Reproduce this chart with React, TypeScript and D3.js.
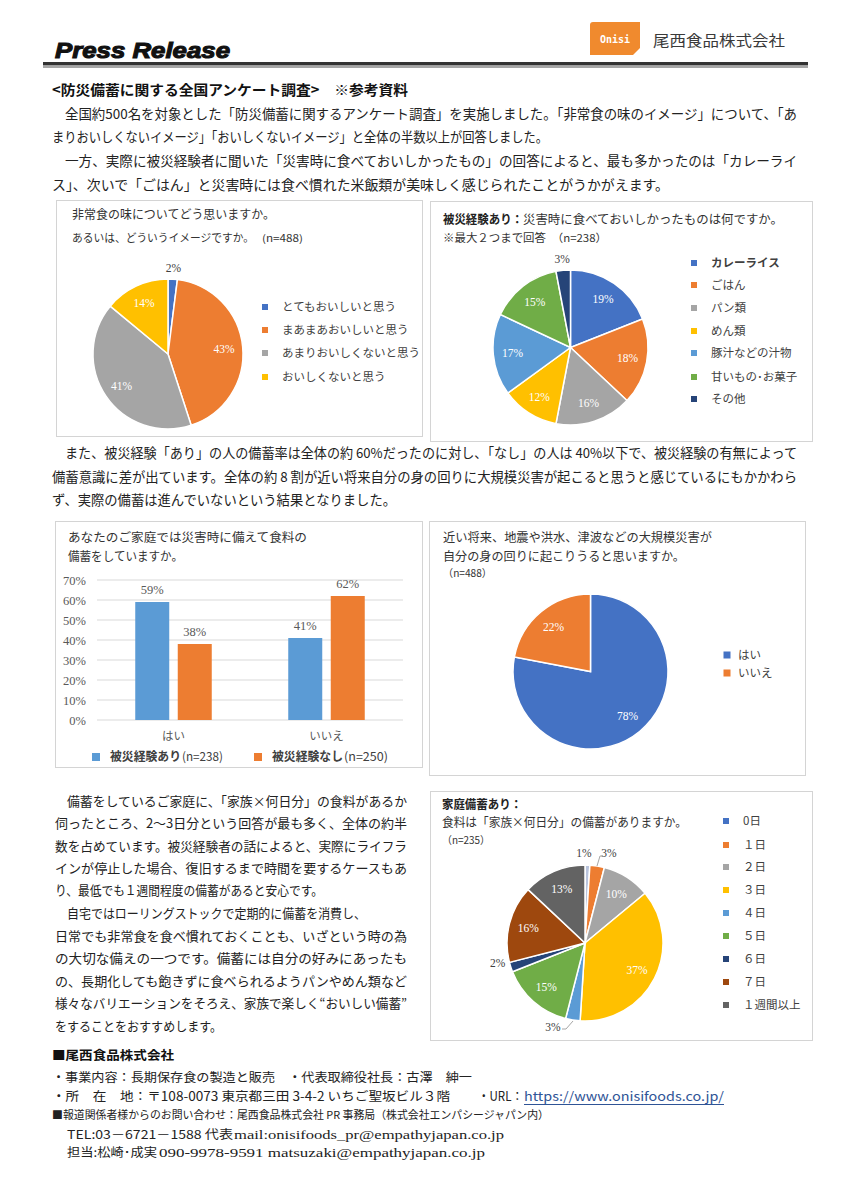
import React from "react";
import * as d3 from "d3";

const FONT = "'Noto Sans CJK JP', 'Noto Sans', sans-serif";
const SERIF = "'Liberation Serif', 'DejaVu Serif', serif";

// ---------- data ----------
const tasteCategories = ["とてもおいしいと思う", "まあまあおいしいと思う", "あまりおいしくないと思う", "おいしくないと思う"];
const tasteValues = [2, 43, 41, 14];

const foodCategories = ["カレーライス", "ごはん", "パン類", "めん類", "豚汁などの汁物", "甘いもの･お菓子", "その他"];
const foodValues = [19, 18, 16, 12, 17, 15, 3];

const stockGroups = ["はい", "いいえ"];
const stockSeriesNames = ["被災経験あり", "被災経験なし"];
const stockSeriesN = ["(n=238)", " (n=250)"];
const stockExperienced = [59, 41];
const stockNotExperienced = [38, 62];
const stockTicks = [0, 10, 20, 30, 40, 50, 60, 70];

const disasterCategories = ["はい", "いいえ"];
const disasterValues = [78, 22];

const daysCategories = ["0日", "１日", "２日", "３日", "４日", "５日", "６日", "７日", "１週間以上"];
const daysValues = [1, 3, 10, 37, 3, 15, 2, 16, 13];

// ---------- styles ----------
const C_BLUE = "#4472C4";
const C_ORANGE = "#ED7D31";
const C_GRAY = "#A5A5A5";
const C_YELLOW = "#FFC000";
const C_LBLUE = "#5B9BD5";
const C_GREEN = "#70AD47";
const C_DBLUE = "#264478";
const C_BROWN = "#9E480E";
const C_DGRAY = "#636363";

type TxtProps = {
  x: number; y: number; t: string; s?: number; w?: number; bold?: boolean;
  fill?: string; anchor?: "start" | "middle" | "end"; family?: string; italic?: boolean;
};
function Txt({ x, y, t, s = 13, w, bold = false, fill = "#222", anchor = "start", family = FONT, italic = false }: TxtProps) {
  return (
    <text x={x} y={y} fontSize={s} fontFamily={family} fontWeight={bold ? 700 : 400}
      fontStyle={italic ? "italic" : undefined} fill={fill} textAnchor={anchor}
      textLength={w} lengthAdjust={w ? "spacingAndGlyphs" : undefined}>{t}</text>
  );
}

type PieProps = {
  cx: number; cy: number; r: number; values: number[]; colors: string[];
  outside?: number[]; offsets?: Record<number, [number, number]>;
};
function Pie({ cx, cy, r, values, colors, outside = [], offsets = {} }: PieProps) {
  const pie = d3.pie<number>().sort(null).value((d) => d);
  const arcs = pie(values);
  const arc = d3.arc<d3.PieArcDatum<number>>().innerRadius(0).outerRadius(r);
  return (
    <g transform={`translate(${cx},${cy})`}>
      {arcs.map((a, i) => (
        <path key={i} d={arc(a) || ""} fill={colors[i]} stroke="#fff" strokeWidth={1.5} />
      ))}
      {arcs.map((a, i) => {
        const mid = (a.startAngle + a.endAngle) / 2;
        const out = outside.includes(i);
        const rr = out ? r * 1.15 : r * 0.75;
        const off = offsets[i] || [0, 0];
        const x = Math.sin(mid) * rr + off[0];
        const y = -Math.cos(mid) * rr + off[1];
        return (
          <text key={"l" + i} x={x} y={y + 4} textAnchor="middle" fontFamily={SERIF} fontSize={11.5}
            fill={out ? "#404040" : "#fff"}>{a.data}%</text>
        );
      })}
    </g>
  );
}

function Legend({ x, tx, ys, labels, colors, s = 11.5, size = 6, boldFirst = false }:
  { x: number; tx: number; ys: number[]; labels: string[]; colors: string[]; s?: number; size?: number; boldFirst?: boolean }) {
  return (
    <g>
      {labels.map((l, i) => (
        <g key={i}>
          <rect x={x - size / 2} y={ys[i] - size / 2} width={size} height={size} fill={colors[i]} />
          <Txt x={tx} y={ys[i] + 4.2} t={l} s={s} fill="#404040" bold={boldFirst && i === 0} />
        </g>
      ))}
    </g>
  );
}

function Box({ x, y, w, h }: { x: number; y: number; w: number; h: number }) {
  return <rect x={x + 0.5} y={y + 0.5} width={w} height={h} fill="#fff" stroke="#d4d4d4" strokeWidth={1} />;
}

// ---------- paragraph texts ----------
const introHeading = "<防災備蓄に関する全国アンケート調査>　※参考資料";
const introLines = [
  "全国約500名を対象とした「防災備蓄に関するアンケート調査」を実施しました。「非常食の味のイメージ」について、「あ",
  "まりおいしくないイメージ」「おいしくないイメージ」と全体の半数以上が回答しました。",
  "一方、実際に被災経験者に聞いた「災害時に食べておいしかったもの」の回答によると、最も多かったのは「カレーライ",
  "ス」、次いで「ごはん」と災害時には食べ慣れた米飯類が美味しく感じられたことがうかがえます。",
];
const midLines = [
  "また、被災経験「あり」の人の備蓄率は全体の約 60%だったのに対し、「なし」の人は 40%以下で、被災経験の有無によって",
  "備蓄意識に差が出ています。全体の約 8 割が近い将来自分の身の回りに大規模災害が起こると思うと感じているにもかかわら",
  "ず、実際の備蓄は進んでいないという結果となりました。",
];
const sideLines = [
  "備蓄をしているご家庭に、「家族×何日分」の食料があるか",
  "伺ったところ、2～3日分という回答が最も多く、全体の約半",
  "数を占めています。被災経験者の話によると、実際にライフラ",
  "インが停止した場合、復旧するまで時間を要するケースもあ",
  "り、最低でも１週間程度の備蓄があると安心です。",
  "自宅ではローリングストックで定期的に備蓄を消費し、",
  "日常でも非常食を食べ慣れておくことも、いざという時の為",
  "の大切な備えの一つです。備蓄には自分の好みにあったも",
  "の、長期化しても飽きずに食べられるようパンやめん類など",
  "様々なバリエーションをそろえ、家族で楽しく“おいしい備蓄”",
  "をすることをおすすめします。",
];

function BarChart() {
  const x0 = d3.scaleBand<string>().domain(stockGroups).range([97, 403]).paddingInner(0.5).paddingOuter(0.25);
  const x1 = d3.scaleBand<string>().domain(stockSeriesNames).range([0, x0.bandwidth()]).paddingInner(0.2);
  const y = d3.scaleLinear().domain([0, 70]).range([720, 580]);
  const series = [stockExperienced, stockNotExperienced];
  const colors = [C_LBLUE, C_ORANGE];
  return (
    <g>
      {stockTicks.map((t) => (
        <g key={t}>
          <line x1={97} x2={403} y1={y(t)} y2={y(t)} stroke="#d9d9d9" strokeWidth={1} />
          <text x={86} y={y(t) + 4.5} textAnchor="end" fontFamily={SERIF} fontSize={12.5} fill="#595959">{t}%</text>
        </g>
      ))}
      {stockGroups.map((g, gi) => (
        <g key={g}>
          {series.map((vals, si) => {
            const bx = (x0(g) || 0) + (x1(stockSeriesNames[si]) || 0);
            return (
              <g key={si}>
                <rect x={bx} y={y(vals[gi])} width={x1.bandwidth()} height={y(0) - y(vals[gi])} fill={colors[si]} />
                <text x={bx + x1.bandwidth() / 2} y={y(vals[gi]) - 8} textAnchor="middle" fontFamily={SERIF}
                  fontSize={12.5} fill="#595959">{vals[gi]}%</text>
              </g>
            );
          })}
          <Txt x={(x0(g) || 0) + x0.bandwidth() / 2} y={740} t={g} s={11.5} fill="#595959" anchor="middle" />
        </g>
      ))}
      {/* legend */}
      <rect x={92} y={753} width={8} height={8} fill={C_LBLUE} />
      <Txt x={110} y={761} t={stockSeriesNames[0]} s={12} w={71} bold fill="#404040" />
      <Txt x={182} y={761} t={stockSeriesN[0]} s={12} w={41} fill="#404040" />
      <rect x={254} y={753} width={8} height={8} fill={C_ORANGE} />
      <Txt x={272} y={761} t={stockSeriesNames[1]} s={12} w={71} bold fill="#404040" />
      <Txt x={344} y={761} t={stockSeriesN[1]} s={12} w={44} fill="#404040" />
    </g>
  );
}

export default function App() {
  const sideX = [67, 55, 55, 55, 55, 67, 55, 55, 55, 55, 55];
  const sideW = [340, 352, 352, 352, 268, 299, 352, 352, 352, 352, 167];
  const sideY = [801, 823, 846, 868, 890, 913, 936, 958, 981, 1003, 1026];
  return (
    <svg width={849} height={1200} style={{ position: "absolute", left: 0, top: 0 }}>
      <rect x={0} y={0} width={849} height={1200} fill="#fff" />

      {/* header */}
      <text x={55} y={58} fontFamily="'Liberation Sans', Arial, sans-serif" fontSize={22} fontWeight={900}
        fontStyle="italic" fill="#111" stroke="#111" strokeWidth={1.1} textLength={175}
        lengthAdjust="spacingAndGlyphs">Press Release</text>
      <rect x={43} y={62} width={765} height={3.5} fill="#333" />
      <rect x={43} y={65.5} width={765} height={2.5} fill="#a6a6a6" />
      <path d="M593,22 L640,22 L640,48 L633,55 L590,55 L590,25 Q590,22 593,22 Z" fill="#F08A2E" />
      <text x={615} y={43} textAnchor="middle" fontFamily="'DejaVu Sans Mono', monospace" fontWeight={700}
        fontSize={10} fill="#fff">Onisi</text>
      <Txt x={653} y={46} t="尾西食品株式会社" s={15} w={132} fill="#3a3a3a" />

      {/* intro */}
      <Txt x={52} y={95} t={introHeading} s={14} w={356} bold fill="#111" />
      <Txt x={65} y={119} t={introLines[0]} s={13.5} w={732} />
      <Txt x={52} y={142} t={introLines[1]} s={13.5} w={496} />
      <Txt x={65} y={166} t={introLines[2]} s={13.5} w={732} />
      <Txt x={52} y={190} t={introLines[3]} s={13.5} w={617} />

      {/* chart 1 */}
      <Box x={56} y={200} w={366} h={236} />
      <Txt x={72} y={219} t="非常食の味についてどう思いますか。" s={12.5} w={203} fill="#333" />
      <Txt x={72} y={242} t="あるいは、どういうイメージですか。" s={11} w={182} fill="#333" />
      <Txt x={262} y={242} t="(n=488)" s={10} w={41} fill="#333" />
      <Pie cx={168} cy={354} r={75} values={tasteValues} colors={[C_BLUE, C_ORANGE, C_GRAY, C_YELLOW]}
        outside={[0]} />
      <Legend x={265} tx={282} ys={[307, 330, 353, 377]} labels={tasteCategories}
        colors={[C_BLUE, C_ORANGE, C_GRAY, C_YELLOW]} s={11.5} />

      {/* chart 2 */}
      <Box x={430} y={201} w={382} h={240} />
      <Txt x={443} y={224} t="被災経験あり：" s={12.5} w={80} bold fill="#222" />
      <Txt x={523} y={224} t="災害時に食べておいしかったものは何ですか。" s={12.5} w={260} fill="#333" />
      <Txt x={443} y={242} t="※最大２つまで回答　（n=238）" s={11} w={164} fill="#333" />
      <Pie cx={570.5} cy={347.5} r={77.5} values={foodValues}
        colors={[C_BLUE, C_ORANGE, C_GRAY, C_YELLOW, C_LBLUE, C_GREEN, C_DBLUE]} outside={[6]} />
      <Legend x={694} tx={711} ys={[263, 285, 308, 331, 353, 377, 399]} labels={foodCategories}
        colors={[C_BLUE, C_ORANGE, C_GRAY, C_YELLOW, C_LBLUE, C_GREEN, C_DBLUE]} s={11.5} boldFirst />

      {/* mid paragraph */}
      <Txt x={65} y={458} t={midLines[0]} s={13.5} w={732} />
      <Txt x={52} y={482} t={midLines[1]} s={13.5} w={745} />
      <Txt x={52} y={505} t={midLines[2]} s={13.5} w={344} />

      {/* chart 3 */}
      <Box x={55} y={521} w={367} h={246} />
      <Txt x={68} y={542} t="あなたのご家庭では災害時に備えて食料の" s={12.5} w={239} fill="#333" />
      <Txt x={68} y={561} t="備蓄をしていますか。" s={12.5} w={115} fill="#333" />
      <BarChart />

      {/* chart 4 */}
      <Box x={429} y={521} w={376} h={254} />
      <Txt x={443} y={542} t="近い将来、地震や洪水、津波などの大規模災害が" s={12.5} w={269} fill="#333" />
      <Txt x={443} y={561} t="自分の身の回りに起こりうると思いますか。" s={12.5} w={242} fill="#333" />
      <Txt x={443} y={577} t="（n=488）" s={10.5} w={49} fill="#333" />
      <Pie cx={590.5} cy={671.5} r={77.5} values={disasterValues} colors={[C_BLUE, C_ORANGE]} />
      <Legend x={727} tx={738} ys={[655, 673]} labels={disasterCategories} colors={[C_BLUE, C_ORANGE]}
        s={11.5} size={7} />

      {/* side text */}
      {sideLines.map((l, i) => (
        <Txt key={i} x={sideX[i]} y={sideY[i] + 5} t={l} s={13} w={sideW[i]} />
      ))}

      {/* chart 5 */}
      <Box x={430} y={791} w={382} h={249} />
      <Txt x={442} y={809} t="家庭備蓄あり：" s={12.5} w={80} bold fill="#222" />
      <Txt x={442} y={827} t="食料は「家族×何日分」の備蓄がありますか。" s={12.5} w={245} fill="#333" />
      <Txt x={442} y={844} t="（n=235）" s={10.5} w={48} fill="#333" />
      <Pie cx={585} cy={943} r={78} values={daysValues}
        colors={["#b9c4dd", C_ORANGE, C_GRAY, C_YELLOW, C_LBLUE, C_GREEN, C_DBLUE, C_BROWN, C_DGRAY]}
        outside={[0, 1, 4, 6]} offsets={{ 0: [-4, 0], 1: [10, -1], 4: [-18, -5], 6: [-2, -8] }} />
      <polyline points="597,866 600,856 603,856" fill="none" stroke="#a6a6a6" strokeWidth={1} />
      <polyline points="573,1021 566,1029 562,1029" fill="none" stroke="#a6a6a6" strokeWidth={1} />
      <Legend x={726} tx={743} ys={[821, 845, 867, 890, 913, 936, 959, 982, 1005]} labels={daysCategories}
        colors={[C_BLUE, C_ORANGE, C_GRAY, C_YELLOW, C_LBLUE, C_GREEN, C_DBLUE, C_BROWN, C_DGRAY]} s={11.5} />

      {/* footer */}
      <Txt x={52} y={1060} t="■尾西食品株式会社" s={12.5} w={122} bold fill="#111" />
      <Txt x={52} y={1082} t="・事業内容：長期保存食の製造と販売　・代表取締役社長：古澤　紳一" s={12.5} w={420} />
      <Txt x={52} y={1101} t="・所　在　地：〒108-0073 東京都三田 3-4-2 いちご聖坂ビル３階" s={12.5} w={398} />
      <Txt x={478} y={1101} t="・URL：" s={12.5} w={45} />
      <Txt x={524} y={1101} t="https://www.onisifoods.co.jp/" s={12.5} w={200} fill="#2f5496" />
      <line x1={524} x2={724} y1={1104.5} y2={1104.5} stroke="#2f5496" strokeWidth={1} />
      <Txt x={52} y={1119} t="■報道関係者様からのお問い合わせ：尾西食品株式会社 PR 事務局（株式会社エンパシージャパン内）" s={11} w={497} />
      <Txt x={67} y={1139} t="TEL:03－6721－1588  代表 " s={12} w={166} />
      <Txt x={234} y={1139} t="mail:onisifoods_pr@empathyjapan.co.jp" s={13} w={270} family={SERIF} />
      <Txt x={67} y={1157} t="担当:松崎･成実  " s={12} w={90} />
      <Txt x={159} y={1157} t="090-9978-9591 matsuzaki@empathyjapan.co.jp" s={13} w={326} family={SERIF} />
    </svg>
  );
}
